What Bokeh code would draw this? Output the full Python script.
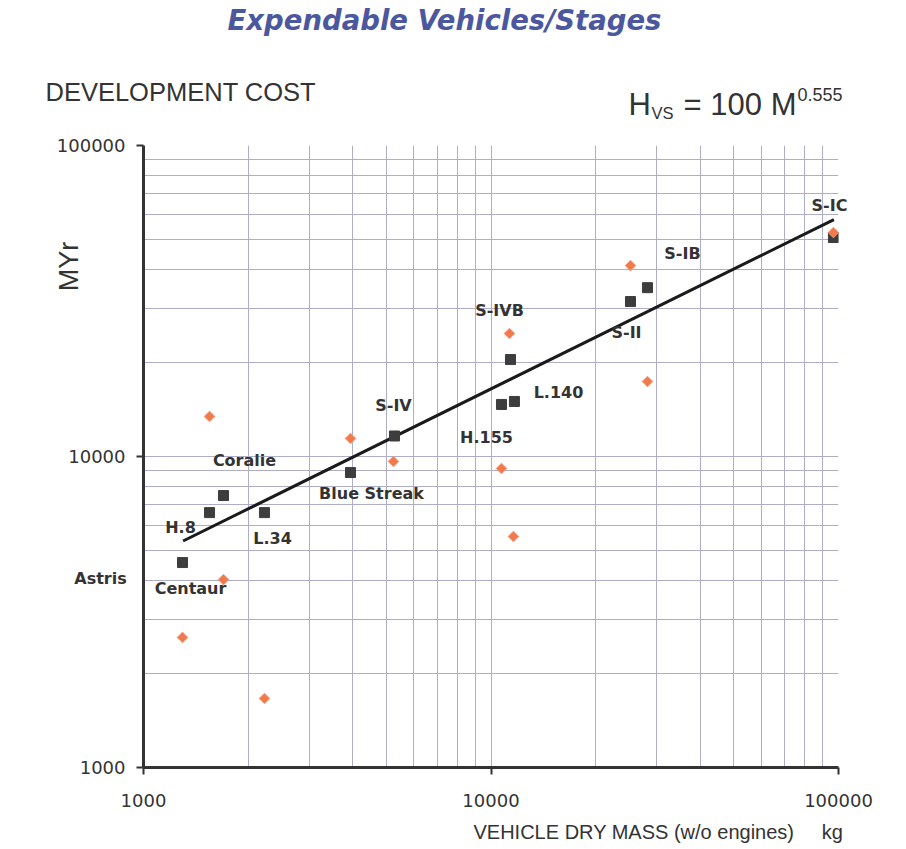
from math import pi
from bokeh.plotting import figure
from bokeh.models import Range1d, FixedTicker, Label
from bokeh.embed import file_html
from bokeh.resources import INLINE

# ---------------- data ----------------
# dark squares: vehicle/stage dry mass (kg) vs development cost (MYr)
sq_mass = [1295, 1549, 1699, 2229, 3942, 5277, 10720, 11680, 11380, 25200, 28200, 96700]
sq_cost = [4560, 6600, 7490, 6600, 8880, 11640, 14700, 15030, 20500, 31500, 34900, 50600]

# orange diamonds
or_mass = [1295, 1549, 1699, 2229, 3942, 5240, 10720, 11300, 11600, 25200, 28200, 96700]
or_cost = [2620, 13450, 4020, 1667, 11430, 9640, 9150, 24860, 5530, 41100, 17420, 52500]

# fitted relation H_VS = 100 M^0.555 (end points)
fit_mass = [1300, 97000]
fit_cost = [5350, 57800]

stage_names = ["Astris", "Centaur", "H.8", "Coralie", "L.34", "Blue Streak", "S-IV",
               "H.155", "L.140", "S-IVB", "S-II", "S-IB", "S-IC"]

major_ticks = [1000, 10000, 100000]
minor_ticks = [2000, 3000, 4000, 5000, 6000, 7000, 8000, 9000,
               20000, 30000, 40000, 50000, 60000, 70000, 80000, 90000]
tick_labels = ["1000", "10000", "100000"]

# ---------------- figure ----------------
W, H = 906, 849
p = figure(width=W, height=H, x_axis_type="log", y_axis_type="log",
           x_range=Range1d(1000, 100000), y_range=Range1d(1000, 100000),
           output_backend="svg", toolbar_location=None,
           min_border_left=143, min_border_top=145,
           min_border_right=68, min_border_bottom=82)
p.outline_line_color = None
p.background_fill_color = "white"
p.border_fill_color = "white"

ticker = FixedTicker(ticks=major_ticks, minor_ticks=minor_ticks)
overrides = {t: s for t, s in zip(major_ticks, tick_labels)}
for ax in (p.xaxis[0], p.yaxis[0]):
    ax.ticker = ticker
    ax.major_label_overrides = overrides
    ax.axis_line_width = 3
    ax.axis_line_color = "#333333"
    ax.major_tick_out = 7
    ax.major_tick_in = 0
    ax.major_tick_line_width = 2
    ax.major_tick_line_color = "#333333"
    ax.minor_tick_out = 0
    ax.minor_tick_in = 0
    ax.minor_tick_line_color = None
    ax.major_label_text_font = "DejaVu Sans"
    ax.major_label_text_font_size = "18px"
    ax.major_label_text_color = "#333333"
p.xaxis.major_label_standoff = 19
p.yaxis.major_label_standoff = 11

grid_col = "#aeaec6"
for g in (p.xgrid[0], p.ygrid[0]):
    g.grid_line_color = grid_col
    g.grid_line_width = 1
    g.minor_grid_line_color = grid_col
    g.minor_grid_line_width = 1

p.line(fit_mass, fit_cost, line_color="#1a1a1a", line_width=3)
p.scatter(sq_mass, sq_cost, marker="square", size=10, fill_color="#3d3d3d",
          line_color="#3d3d3d")
p.scatter(or_mass, or_cost, marker="square", angle=pi / 4, size=7.5,
          fill_color="#f07a4c", line_color="#f39a78", line_width=1)

# ---------------- annotations (placed in screenshot pixels) ----------------
FX0, FY0, DX, DY = 143.0, 767.0, 347.5, 311.0


def at(px, py):
    return 1000 * 10 ** ((px - FX0) / DX), 1000 * 10 ** ((FY0 - py) / DY)


def text(px, py, txt, font, size, style="normal", color="#333333",
         align="left", baseline="middle", angle=0.0, panel=None):
    x, y = at(px, py)
    lab = Label(x=x, y=y, text=txt, text_font=font, text_font_size=size,
                text_font_style=style, text_color=color, text_align=align,
                text_baseline=baseline, angle=angle)
    if panel is None:
        p.add_layout(lab)
    else:
        p.add_layout(lab, panel)


label_pos = [(100, 578), (190, 588), (180, 527), (244, 460), (272, 538), (371, 493),
             (393, 405), (486, 437), (558, 392), (499, 310), (626, 332), (682, 253),
             (829, 205)]
label_panel = {"Astris": "above", "S-IC": "right"}
for name, (px, py) in zip(stage_names, label_pos):
    text(px, py, name, "DejaVu Sans", "16px", style="bold", align="center",
         panel=label_panel.get(name))

nb = "\u00a0"
text(444, 19, "Expendable Vehicles/Stages", "DejaVu Sans", "27.5px",
     style="bold italic", color="#4b58a0", align="center", panel="above")
text(45, 91, "DEVELOPMENT COST", "Liberation Sans", "25.5px", panel="above")
text(628, 103.5, "H" + "\u2002" + nb * 2 + "= 100 M", "Liberation Sans", "31px",
     panel="above")
text(797, 94, "0.555", "Liberation Sans", "18px", panel="above")
text(651, 112, "VS", "Liberation Sans", "16.5px", panel="right")
text(68, 266, "MYr", "Liberation Sans", "27px", align="center",
     angle=pi / 2, panel="left")
text(473, 831, "VEHICLE DRY MASS (w/o engines)" + nb * 5 + "kg",
     "Liberation Sans", "20px", panel="below")

open("out.html", "w").write(file_html(p, INLINE))
